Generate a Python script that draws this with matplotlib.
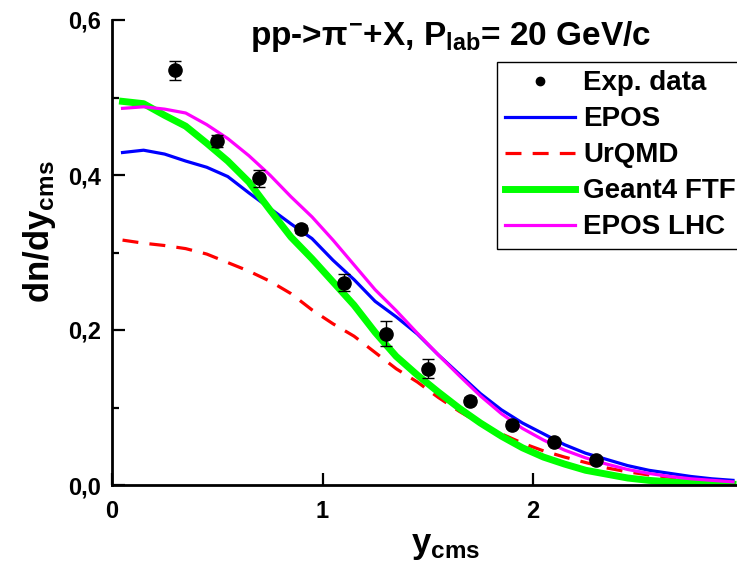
import matplotlib
matplotlib.use('Agg')
import matplotlib.pyplot as plt
from matplotlib.lines import Line2D
from matplotlib.ticker import FixedLocator, FuncFormatter

plt.rcParams['font.family'] = ['Liberation Sans', 'DejaVu Sans']
plt.rcParams['font.weight'] = 'bold'
plt.rcParams['mathtext.fontset'] = 'custom'
plt.rcParams['mathtext.rm'] = 'Liberation Sans:bold'
plt.rcParams['mathtext.it'] = 'Liberation Sans:bold'
plt.rcParams['mathtext.bf'] = 'Liberation Sans:bold'
plt.rcParams['mathtext.sf'] = 'Liberation Sans:bold'

# experimental points
exp_y = [0.3, 0.5, 0.7, 0.9, 1.1, 1.3, 1.5, 1.7, 1.9, 2.1, 2.3]
exp_val = [0.535, 0.444, 0.396, 0.330, 0.261, 0.195, 0.150, 0.109, 0.078, 0.055, 0.032]
exp_err = [0.012, 0.008, 0.011, 0.005, 0.011, 0.016, 0.012, 0.004, 0.004, 0.003, 0.003]

# model curves, sampled every 0.1 in y_cms
model_y = [0.05, 0.15, 0.25, 0.35, 0.45, 0.55, 0.65, 0.75, 0.85, 0.95,
           1.05, 1.15, 1.25, 1.35, 1.45, 1.55, 1.65, 1.75, 1.85, 1.95,
           2.05, 2.15, 2.25, 2.35, 2.45, 2.55, 2.65, 2.75, 2.85, 2.95]
epos = [0.429, 0.432, 0.427, 0.418, 0.410, 0.398, 0.377, 0.357, 0.337, 0.318,
        0.290, 0.265, 0.237, 0.217, 0.195, 0.168, 0.143, 0.118, 0.097, 0.080,
        0.066, 0.052, 0.041, 0.033, 0.025, 0.019, 0.015, 0.011, 0.008, 0.006]
urqmd = [0.316, 0.312, 0.309, 0.305, 0.298, 0.287, 0.276, 0.263, 0.247, 0.226,
         0.208, 0.192, 0.171, 0.150, 0.133, 0.113, 0.095, 0.079, 0.066, 0.054,
         0.044, 0.036, 0.029, 0.022, 0.017, 0.013, 0.010, 0.007, 0.005, 0.004]
geant4 = [0.495, 0.492, 0.477, 0.463, 0.441, 0.418, 0.391, 0.355, 0.320, 0.292,
          0.262, 0.232, 0.197, 0.166, 0.142, 0.120, 0.099, 0.080, 0.063, 0.048,
          0.036, 0.027, 0.019, 0.014, 0.009, 0.006, 0.004, 0.003, 0.002, 0.001]
epos_lhc = [0.486, 0.488, 0.485, 0.480, 0.465, 0.447, 0.425, 0.400, 0.372, 0.346,
            0.316, 0.284, 0.252, 0.225, 0.196, 0.168, 0.141, 0.115, 0.092, 0.073,
            0.058, 0.045, 0.035, 0.027, 0.020, 0.015, 0.011, 0.008, 0.006, 0.004]

fig = plt.figure(figsize=(7.37, 5.72), dpi=100)
ax = fig.add_axes([112 / 737, 1 - 485 / 572, 631.5 / 737, 465 / 572])

ax.errorbar(exp_y, exp_val, yerr=exp_err, fmt='o', color='black', ms=9.5,
            elinewidth=1, capsize=4, capthick=1, zorder=5)
l_epos, = ax.plot(model_y, epos, color='#0000ff', lw=2.3, label='EPOS')
l_urqmd, = ax.plot(model_y, urqmd, color='#ff0000', lw=2.3, dashes=(5, 3.5), label='UrQMD')
l_g4, = ax.plot(model_y, geant4, color='#00ff00', lw=5, label='Geant4 FTF')
l_lhc, = ax.plot(model_y, epos_lhc, color='#ff00ff', lw=2.3, label='EPOS LHC')
exp_handle = Line2D([], [], ls='none', marker='o', color='black', ms=6,
                    label='Exp. data')

ax.set_xlim(0, 3)
ax.set_ylim(0, 0.6)
ax.spines['top'].set_visible(False)
ax.spines['right'].set_visible(False)
for s in ('left', 'bottom'):
    ax.spines[s].set_linewidth(2)

ax.xaxis.set_major_locator(FixedLocator([0, 1, 2, 3]))
ax.yaxis.set_major_locator(FixedLocator([0, 0.2, 0.4, 0.6]))
ax.yaxis.set_minor_locator(FixedLocator([0.1, 0.3, 0.5]))
ax.yaxis.set_major_formatter(FuncFormatter(lambda v, p: f'{v:.1f}'.replace('.', ',')))
ax.xaxis.set_major_formatter(FuncFormatter(lambda v, p: '' if v > 2.5 else f'{v:.0f}'))
ax.tick_params(axis='both', which='major', direction='in', length=9, width=1.6,
               labelsize=17)
ax.tick_params(axis='y', which='minor', direction='in', length=5, width=1.6)
ax.tick_params(axis='x', pad=11)
ax.tick_params(axis='y', pad=8)
ax.tick_params(top=False, right=False, which='both')

ax.set_xlabel(r'y$_{\mathregular{cms}}$', fontsize=25, fontweight='bold')
ax.set_ylabel(r'dn/dy$_{\mathregular{cms}}$', fontsize=25, fontweight='bold')
ax.xaxis.set_label_coords((446 - 112) / 631.5, -(529 - 485) / 465)
ax.yaxis.set_label_coords(-(112 - 58) / 631.5, (485 - 232) / 465)

fig.text(250 / 737, 1 - 45 / 572,
         r'pp->$\pi^{-}$+X, P$_{\mathregular{lab}}$= 20 GeV/c',
         fontsize=24, fontweight='bold', va='baseline', ha='left')

leg = ax.legend(handles=[exp_handle, l_epos, l_urqmd, l_g4, l_lhc],
                loc='upper left', bbox_to_anchor=(497 / 737, 1 - 62 / 572),
                bbox_transform=fig.transFigure, borderaxespad=0,
                fontsize=20, handlelength=2.5, labelspacing=0.36,
                handletextpad=0.3, borderpad=0.3, fancybox=False,
                framealpha=1, edgecolor='black')
leg.get_frame().set_linewidth(1)

fig.savefig('out.png', dpi=100)
